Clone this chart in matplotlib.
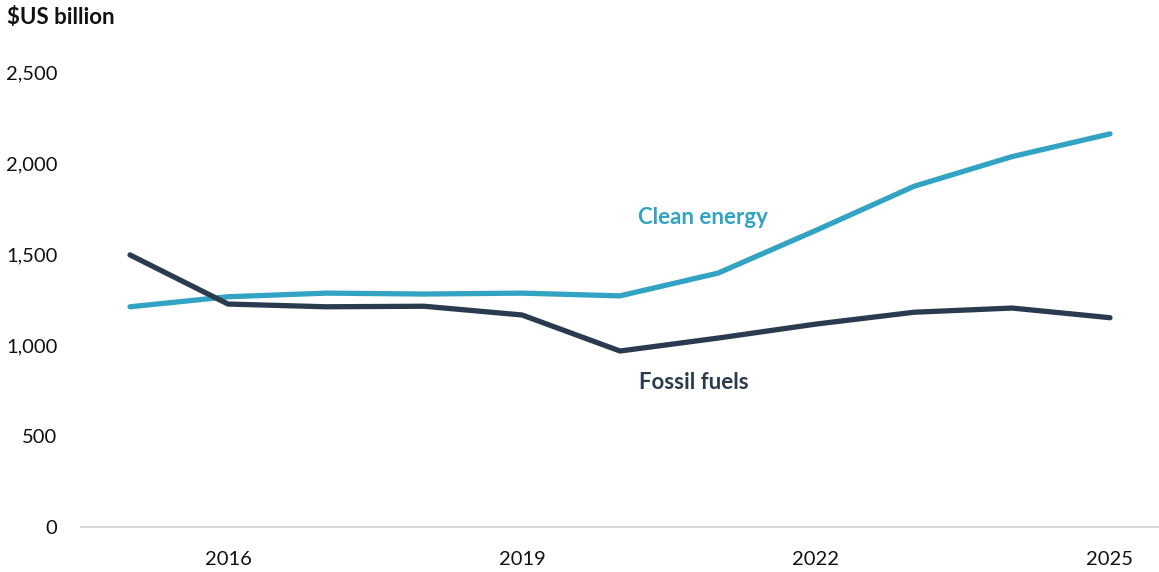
import matplotlib
matplotlib.use("Agg")
import matplotlib.pyplot as plt
from matplotlib.ticker import FuncFormatter

plt.rcParams['font.family'] = ['Lato', 'DejaVu Sans']

years = [2015, 2016, 2017, 2018, 2019, 2020, 2021, 2022, 2023, 2024, 2025]
clean_energy = [1210, 1265, 1285, 1280, 1285, 1270, 1395, 1630, 1872, 2035, 2160]
fossil_fuels = [1495, 1225, 1210, 1213, 1165, 967, 1038, 1115, 1180, 1203, 1150]
x_ticks = [2016, 2019, 2022, 2025]
y_ticks = [0, 500, 1000, 1500, 2000, 2500]

clean_color = '#33A3C3'
fossil_color = '#2B3B4F'

W, H = 1159, 572
fig = plt.figure(figsize=(W / 100, H / 100), dpi=100)
ax = fig.add_axes([81 / W, (H - 527) / H, 1 - 81 / W, (527 - 72) / H])

ax.plot(years, clean_energy, color=clean_color, lw=3.8, solid_capstyle='round',
        solid_joinstyle='round', clip_on=False)
ax.plot(years, fossil_fuels, color=fossil_color, lw=3.8, solid_capstyle='round',
        solid_joinstyle='round', clip_on=False)

ax.set_xlim(2014.5, 2025.5)
ax.set_ylim(0, 2500)
ax.set_xticks(x_ticks)
ax.set_yticks(y_ticks)
ax.yaxis.set_major_formatter(FuncFormatter(lambda v, p: f"{int(v):,}"))

for s in ['top', 'right', 'left']:
    ax.spines[s].set_visible(False)
ax.spines['bottom'].set_color('#D9D9D9')
ax.spines['bottom'].set_linewidth(1.5)
ax.tick_params(axis='both', length=0, labelsize=14.5, colors='#111111')
ax.tick_params(axis='y', pad=17)
ax.tick_params(axis='x', pad=17)

ax.text(2020.85, 1700, 'Clean energy', color=clean_color, fontsize=16,
        fontweight='bold', ha='center', va='center')
ax.text(2020.75, 795, 'Fossil fuels', color=fossil_color, fontsize=16,
        fontweight='bold', ha='center', va='center')

fig.text(7 / W, 1 - 17 / H, '$US billion', fontsize=16, fontweight='bold',
         ha='left', va='center', color='#111111')

fig.savefig('out.png', dpi=100)
